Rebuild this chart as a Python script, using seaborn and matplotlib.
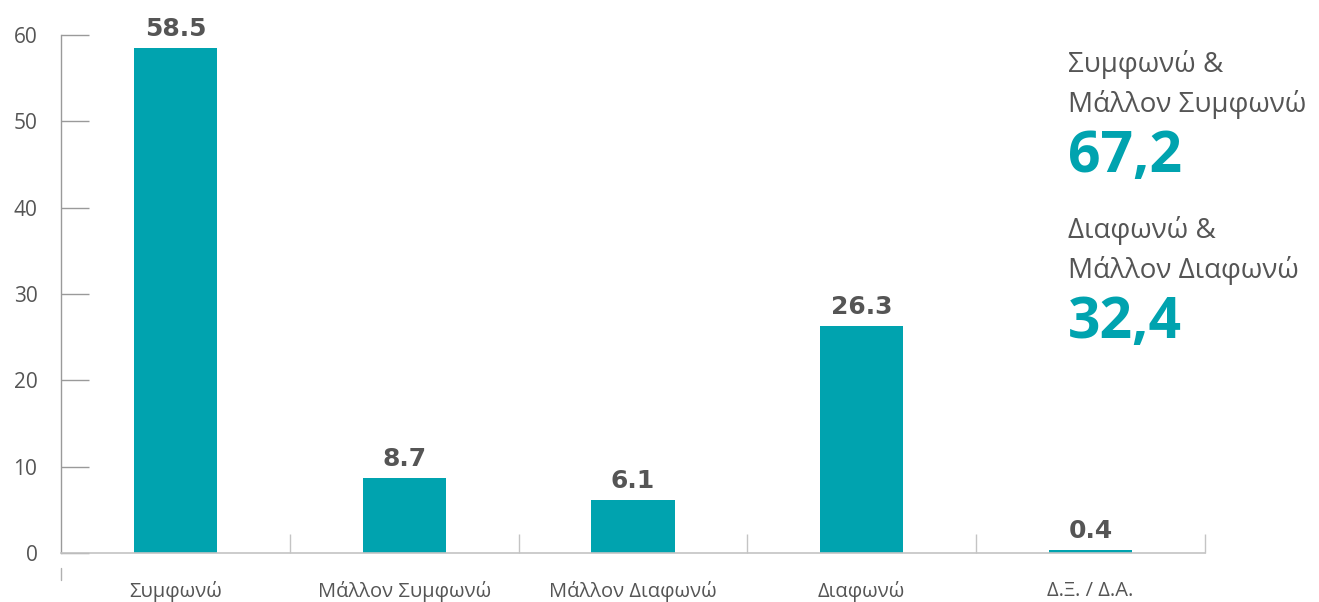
import numpy as np
import pandas as pd
import matplotlib
matplotlib.use("Agg")
import matplotlib.pyplot as plt
import matplotlib.transforms as mtransforms
import seaborn as sns

# data
categories = ["Συμφωνώ", "Μάλλον Συμφωνώ", "Μάλλον Διαφωνώ", "Διαφωνώ", "Δ.Ξ. / Δ.Α."]
values = [58.5, 8.7, 6.1, 26.3, 0.4]
y_ticks = [0, 10, 20, 30, 40, 50, 60]
summary_labels = [("Συμφωνώ &", "Μάλλον Συμφωνώ"), ("Διαφωνώ &", "Μάλλον Διαφωνώ")]
summary_values = ["67,2", "32,4"]

TEAL = "#00a3af"
TEXT = "#555555"
GRID = "#9a9a9a"

sns.set_theme(style="white")
plt.rcParams['font.family'] = ['Open Sans', 'DejaVu Sans']

df = pd.DataFrame({"cat": categories, "val": values})

W, H = 1319, 602
fig = plt.figure(figsize=(W / 100, H / 100), dpi=100)
ax = fig.add_axes([61 / W, (H - 553) / H, (1205 - 61) / W, (553 - 35) / H])

sns.barplot(data=df, x="cat", y="val", color=TEAL, width=0.363, saturation=1,
            edgecolor="none", linewidth=0, ax=ax)

ax.set_xlim(-0.5, len(categories) - 0.5)
ax.set_ylim(0, 60)
ax.set_xlabel("")
ax.set_ylabel("")

# value labels
for cont in ax.containers:
    ax.bar_label(cont, labels=[f"{v:.1f}" for v in values], padding=5,
                 fontsize=18, fontweight="bold", color=TEXT, family="DejaVu Sans")

# spines
for s in ["top", "right"]:
    ax.spines[s].set_visible(False)
ax.spines["left"].set_color(GRID)
ax.spines["left"].set_linewidth(1.0)
ax.spines["bottom"].set_color("#c4c4c4")
ax.spines["bottom"].set_linewidth(1.2)

# y ticks drawn inward
ax.set_yticks(y_ticks)
ax.tick_params(axis="y", which="major", left=True, direction="in", length=20, width=1.0,
               color=GRID, pad=17, labelsize=15, labelcolor=TEXT)
ax.tick_params(axis="y", which="minor", left=False)

# x: category separators as minor ticks
ax.set_xticks(range(len(categories)))
ax.set_xticklabels(categories)
ax.set_xticks(np.arange(0.5, len(categories), 1.0), minor=True)
ax.tick_params(axis="x", which="major", bottom=True, length=0, pad=20,
               labelsize=14.5, labelcolor=TEXT)
ax.tick_params(axis="x", which="minor", bottom=True, direction="in", length=14,
               width=1.0, color="#c4c4c4")

# small mark below the baseline at the start of the category axis
trans = mtransforms.blended_transform_factory(ax.transData, fig.transFigure)
ax.plot([-0.5, -0.5], [(H - 568) / H, (H - 580) / H], transform=trans,
        color="#b0b0b0", lw=1.0, clip_on=False)

# summary texts at right
x0 = 1068 / W
label_base = [(72, 112), (238, 278)]
value_base = [172, 338]
for (l1, l2), (b1, b2), v, bv in zip(summary_labels, label_base, summary_values, value_base):
    fig.text(x0, (H - b1) / H, l1, fontsize=20, color=TEXT, va="baseline", ha="left")
    fig.text(x0, (H - b2) / H, l2, fontsize=20, color=TEXT, va="baseline", ha="left")
    fig.text(x0, (H - bv) / H, v, fontsize=41, color=TEAL, fontweight="bold",
             va="baseline", ha="left")

fig.savefig("out.png", dpi=100, facecolor="white")
